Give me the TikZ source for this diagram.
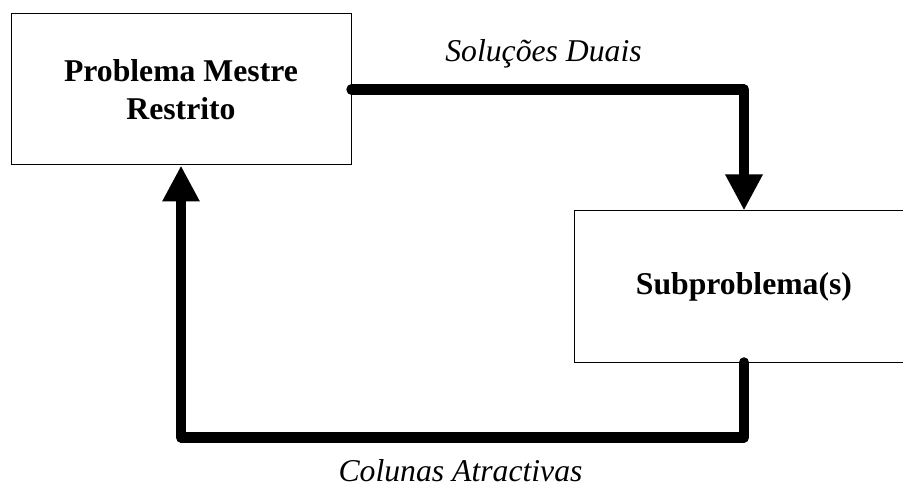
\documentclass[tikz,border=0pt]{standalone}
\usepackage{fontspec}
\setmainfont{Liberation Serif}
\usetikzlibrary{arrows.meta}
\begin{document}
\begin{tikzpicture}[x=1pt,y=-1pt,
  block/.style={draw=black,line width=1pt,fill=white,rectangle,inner sep=0pt,
    align=center,font=\fontsize{31.7}{38}\selectfont\bfseries},
  flow/.style={line width=10.5pt,line cap=round,line join=round,
    -{Triangle[length=36pt,width=35pt]}},
  caption/.style={anchor=base,inner sep=0pt,font=\fontsize{31.7}{38}\selectfont\itshape}]
  \useasboundingbox (0,0) rectangle (903,489);
  \clip (0,0) rectangle (903,489);

  % the two problem blocks
  \node[block,minimum width=340pt,minimum height=151pt] (master) at (181,89.5)
    {Problema Mestre\\Restrito};
  \node[block,minimum width=340pt,minimum height=151pt] (sub) at (744,286.5)
    {Subproblema(s)};

  % dual values go down to the subproblem
  \draw[flow] (master.east) -- (master.east -| sub.north) -- (sub.north);
  \node[caption] (duals) at (543.5,62) {Soluções Duais};

  % attractive columns come back to the master problem
  \coordinate (turn) at (744,437.5);
  \draw[flow] (sub.south) -- (turn) -| (master.south);
  \node[caption] (cols) at (460.5,481) {Colunas Atractivas};
\end{tikzpicture}
\end{document}
